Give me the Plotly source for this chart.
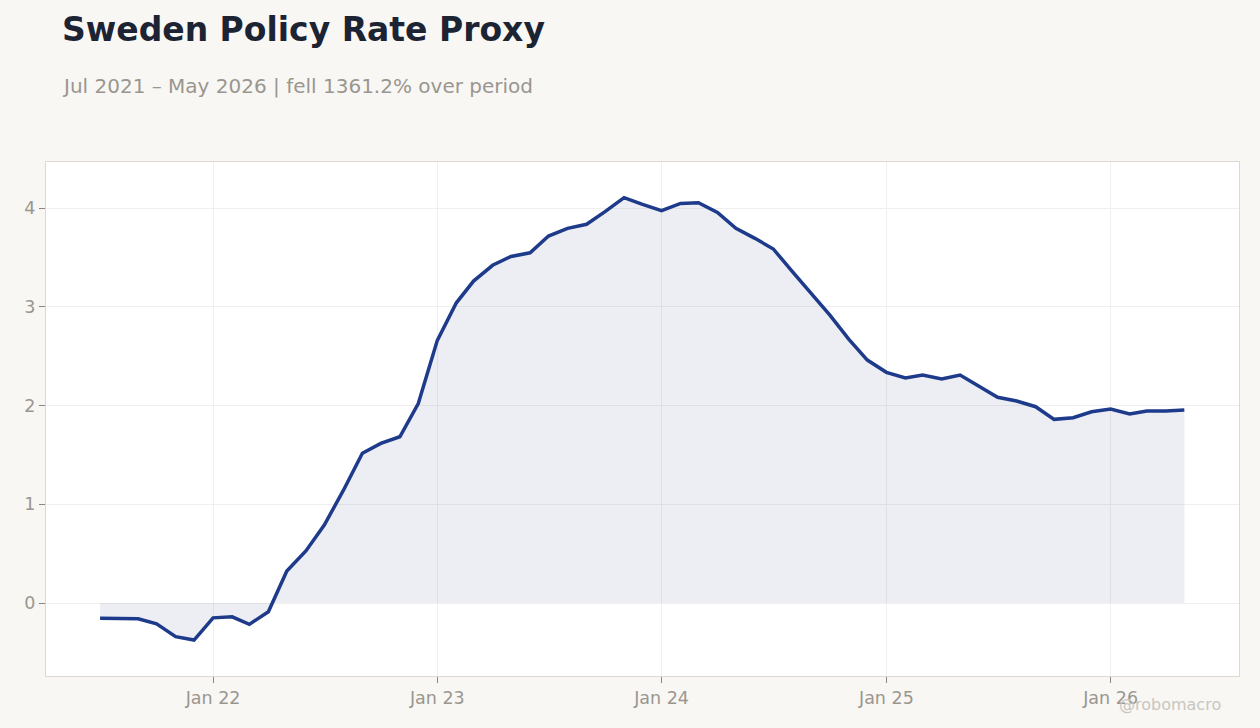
import pandas as pd
import plotly.graph_objects as go

# monthly readings, Jul 2021 .. May 2026
months = pd.date_range("2021-07-01", "2026-05-01", freq="MS")
rate = [
    -0.155, -0.157, -0.16, -0.21, -0.34, -0.375,       # 2021 H2
    -0.15, -0.14, -0.216, -0.088, 0.324, 0.527,        # 2022 H1
    0.79, 1.14, 1.516, 1.617, 1.684, 2.02,             # 2022 H2
    2.66, 3.04, 3.26, 3.42, 3.51, 3.547,               # 2023 H1
    3.716, 3.794, 3.835, 3.963, 4.105, 4.037,          # 2023 H2
    3.973, 4.047, 4.054, 3.956, 3.794, 3.693,          # 2024 H1
    3.585, 3.355, 3.136, 2.916, 2.67, 2.46,            # 2024 H2
    2.336, 2.28, 2.309, 2.268, 2.309, 2.197,           # 2025 H1
    2.083, 2.046, 1.988, 1.86, 1.877, 1.937,           # 2025 H2
    1.965, 1.914, 1.944, 1.944, 1.955,                 # 2026
]

title = "Sweden Policy Rate Proxy"
subtitle = "Jul 2021 – May 2026 | fell 1361.2% over period"

LINE = "#1e3a8a"
GREY = "#9a968f"
FONT = "DejaVu Sans"

fig = go.Figure()
fig.add_trace(go.Scatter(
    x=months, y=rate, mode="lines",
    line=dict(color=LINE, width=3.5),
    fill="tozeroy", fillcolor="rgba(40,55,120,0.085)",
    hoverinfo="x+y", showlegend=False,
))

fig.update_layout(
    width=1260, height=728,
    paper_bgcolor="#f8f7f4", plot_bgcolor="#ffffff",
    margin=dict(l=46, r=21, t=162, b=52),
    font=dict(family=FONT, color=GREY, size=17.5),
    annotations=[
        dict(text=f"<b>{title}</b>", xref="paper", yref="paper",
             x=0.0118, y=1.257, xanchor="left", yanchor="middle",
             showarrow=False, font=dict(size=33, color="#1c2333", family=FONT)),
        dict(text=subtitle, xref="paper", yref="paper",
             x=0.0118, y=1.148, xanchor="left", yanchor="middle",
             showarrow=False, font=dict(size=20, color=GREY, family=FONT)),
        # watermark sits over the last tick label, as in the original
        dict(text="@robomacro", xref="paper", yref="paper",
             x=0.987, y=-0.056, xanchor="right", yanchor="middle",
             showarrow=False, font=dict(size=16, color="#c9c6c1", family=FONT)),
    ],
)

fig.update_xaxes(
    range=["2021-04-04", "2026-07-29"],
    tickvals=pd.to_datetime(["2022-01-01", "2023-01-01", "2024-01-01",
                             "2025-01-01", "2026-01-01"]),
    tickformat="%b %y",
    showgrid=True, gridcolor="#f0efed", gridwidth=1,
    showline=True, linecolor="#ddd8d0", linewidth=1, mirror=True,
    ticks="outside", ticklen=6, tickcolor="#8a8580",
    zeroline=False,
)
fig.update_yaxes(
    range=[-0.739, 4.466],
    tickvals=[0, 1, 2, 3, 4],
    showgrid=True, gridcolor="#f0efed", gridwidth=1,
    showline=True, linecolor="#ddd8d0", linewidth=1, mirror=True,
    ticks="outside", ticklen=6, tickcolor="#8a8580",
    zeroline=False,
)

# drop the browser's default page margin so the paper fills the window
fig.write_html("out.html", config={"displayModeBar": False},
               post_script="document.body.style.margin='0';")
